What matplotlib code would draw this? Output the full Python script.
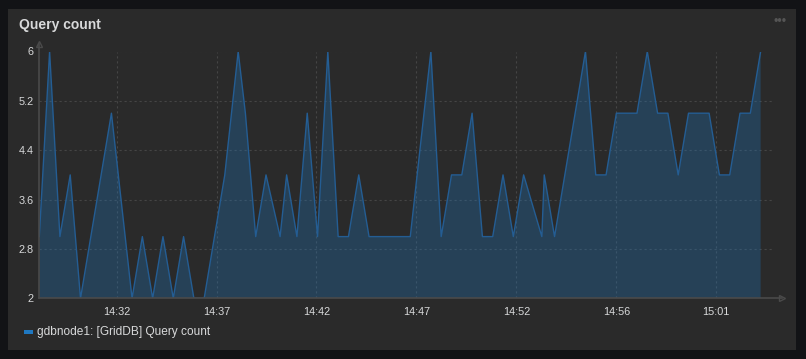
import matplotlib
matplotlib.use("Agg")
import matplotlib.pyplot as plt
from matplotlib.patches import Rectangle
import pandas as pd

# * dati (un campione ogni 30 s)
query_count = [
    3, 6, 3, 4, 2, 3, 4, 5, 3.5, 2,
    3, 2, 3, 2, 3, 2, 2, 3, 4, 6,
    5, 3, 4, 3, 4, 3, 5, 3, 6, 3,
    3, 4, 3, 3, 3, 3, 3, 4.5, 6, 3,
    4, 4, 5, 3, 3, 4, 3, 4, 3, 4,
    3, 4, 5, 6, 4, 4, 5, 5, 5, 6,
    5, 5, 4, 5, 5, 5, 4, 4, 5, 5,
    6,
]
first_sample = "2024-01-01 14:28:55"
late_samples_s = {19: 9, 23: 11, 48: 23}  # campioni arrivati in ritardo
range_end = "2024-01-01 15:04:31"

y_ticks = [2, 2.8, 3.6, 4.4, 5.2, 6]
y_tick_labels = ["2", "2.8", "3.6", "4.4", "5.2", "6"]
x_tick_labels = ["14:32", "14:37", "14:42", "14:47", "14:52", "14:56", "15:01"]
first_tick = "2024-01-01 14:32:40"

title = "Query count"
series_name = "gdbnode1: [GridDB] Query count"

# * colori stile grafana dark
BG_OUT = "#121316"
BG_PANEL = "#2a2a2a"
TEXT = "#d8d9da"
GRID = "#454545"
AXIS = "#4a4a4a"
BLUE = "#1F78C1"
LINE = "#245d93"
FONT = "Liberation Sans"

plt.rcParams["font.family"] = [FONT, "DejaVu Sans"]

times = pd.date_range(first_sample, periods=len(query_count), freq="30s")
delays = [late_samples_s.get(i, 0) for i in range(len(times))]
times = (times + pd.to_timedelta(delays, unit="s")).to_pydatetime()

tick_times = pd.date_range(first_tick, periods=len(x_tick_labels), freq="291s").to_pydatetime()

W, H = 806, 359
fig = plt.figure(figsize=(W / 100, H / 100), dpi=100, facecolor=BG_OUT)
fig.add_artist(Rectangle((8 / W, 9 / H), 788 / W, 341 / H, transform=fig.transFigure,
                         facecolor=BG_PANEL, edgecolor="none", zorder=0))

ax = fig.add_axes([39.3 / W, 60.7 / H, (773 - 39.3) / W, (298.3 - 51.5) / H])
ax.set_facecolor("none")

ax.fill_between(times, query_count, 0, color=BLUE, alpha=0.3, linewidth=0, zorder=2)
ax.plot(times, query_count, color=LINE, linewidth=1.0, zorder=3)

ax.set_ylim(2, 6)
ax.set_xlim(times[0], pd.Timestamp(range_end).to_pydatetime())
ax.set_yticks(y_ticks, y_tick_labels)
ax.set_xticks(tick_times, x_tick_labels)

ax.grid(True, color=GRID, linestyle=(0, (2, 2.5)), linewidth=0.8)
ax.set_axisbelow(True)
for s in ["top", "right", "left", "bottom"]:
    ax.spines[s].set_visible(False)

# * assi con freccia
ax.plot([0, 0], [0, 1.03], transform=ax.transAxes, color=AXIS, lw=1.2, clip_on=False, zorder=4)
ax.plot([0, 1.012], [0, 0], transform=ax.transAxes, color=AXIS, lw=1.2, clip_on=False, zorder=4)
ax.plot([0], [1.03], transform=ax.transAxes, marker="^", ms=5, mfc="none", mec=AXIS,
        mew=1, clip_on=False, zorder=4)
ax.plot([1.012], [0], transform=ax.transAxes, marker=">", ms=5, mfc="none", mec=AXIS,
        mew=1, clip_on=False, zorder=4)

ax.tick_params(axis="both", length=0, labelsize=7.8, labelcolor=TEXT)
ax.tick_params(axis="x", pad=6)
ax.tick_params(axis="y", pad=4)

fig.text(19 / W, 1 - 25 / H, title, fontsize=10, fontweight="bold", color=TEXT,
         va="center", ha="left")
fig.text(780 / W, 1 - 22 / H, "•••", fontsize=9, color="#555555", va="center", ha="center")

# * legenda
fig.add_artist(Rectangle((23.5 / W, 1 - 333.5 / H), 9 / W, 3.5 / H, transform=fig.transFigure,
                         facecolor=BLUE, edgecolor="none"))
fig.text(37 / W, 1 - 332 / H, series_name, fontsize=8.6, color=TEXT, va="center", ha="left")

fig.savefig("out.png", dpi=100, facecolor=BG_OUT)
